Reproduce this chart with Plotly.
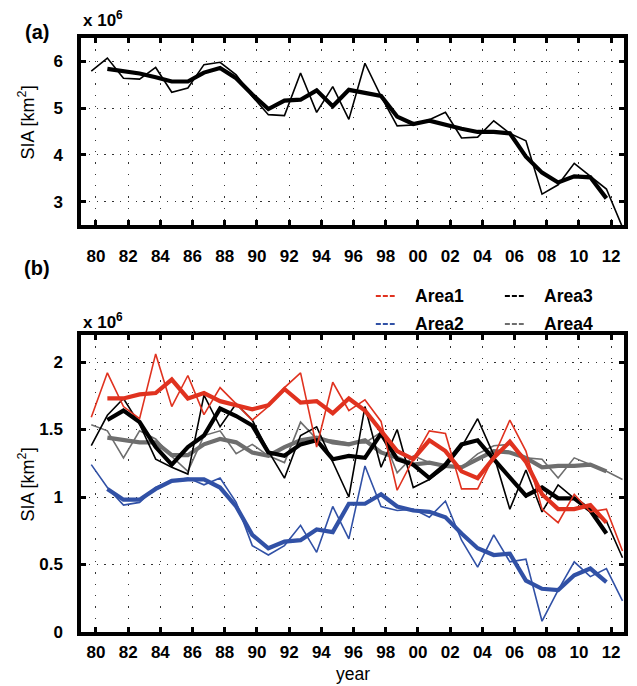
import plotly.graph_objects as go

# ---------------- data ----------------
years = list(range(1979, 2013))          # annual September values
smooth_years = list(range(1980, 2012))   # 3-year running mean years
SEPT = 8.5 / 12                          # values plotted at mid-September

total_annual = [5.79, 6.07, 5.64, 5.62, 5.87, 5.34, 5.43, 5.93, 5.98, 5.71,
                5.25, 4.86, 4.84, 5.75, 4.91, 5.46, 4.76, 5.96, 5.25, 4.62,
                4.64, 4.75, 4.91, 4.36, 4.38, 4.73, 4.46, 4.30, 3.16, 3.36,
                3.82, 3.54, 3.27, 2.45]
total_smooth = [5.84, 5.79, 5.74, 5.66, 5.57, 5.57, 5.76, 5.86, 5.64, 5.29,
                4.98, 5.16, 5.18, 5.38, 5.04, 5.39, 5.32, 5.26, 4.82, 4.66,
                4.73, 4.64, 4.56, 4.49, 4.49, 4.46, 3.96, 3.62, 3.41, 3.54,
                3.52, 3.07]

area1_annual = [1.59, 1.92, 1.67, 1.58, 2.06, 1.67, 1.90, 1.61, 1.81, 1.69,
                1.57, 1.67, 1.81, 1.92, 1.37, 1.85, 1.64, 1.72, 1.56, 1.05,
                1.28, 1.49, 1.47, 1.06, 1.06, 1.30, 1.57, 1.34, 0.91, 0.81,
                1.02, 0.89, 0.91, 0.60]
area1_smooth = [1.73, 1.73, 1.76, 1.77, 1.87, 1.73, 1.77, 1.71, 1.68, 1.65,
                1.68, 1.80, 1.70, 1.71, 1.62, 1.73, 1.64, 1.49, 1.34, 1.28,
                1.42, 1.34, 1.19, 1.14, 1.29, 1.41, 1.26, 1.02, 0.91, 0.91,
                0.94, 0.81]

area2_annual = [1.24, 1.07, 0.94, 0.96, 1.07, 1.12, 1.14, 1.09, 1.14, 0.96,
                0.64, 0.57, 0.64, 0.79, 0.59, 0.93, 0.69, 1.23, 0.93, 0.90,
                0.91, 0.85, 0.97, 0.68, 0.48, 0.72, 0.52, 0.54, 0.08, 0.31,
                0.52, 0.41, 0.47, 0.23]
area2_smooth = [1.06, 0.98, 0.98, 1.06, 1.12, 1.13, 1.13, 1.07, 0.93, 0.72,
                0.62, 0.67, 0.68, 0.76, 0.74, 0.95, 0.95, 1.02, 0.93, 0.90,
                0.89, 0.85, 0.73, 0.62, 0.57, 0.58, 0.38, 0.32, 0.31, 0.42,
                0.47, 0.37]

area3_annual = [1.38, 1.605, 1.73, 1.54, 1.28, 1.22, 1.17, 1.755, 1.52, 1.69,
                1.57, 1.34, 1.14, 1.455, 1.52, 1.255, 1.00, 1.67, 1.22, 1.50,
                1.07, 1.13, 1.22, 1.37, 1.58, 1.31, 0.91, 1.20, 0.89, 1.09,
                0.99, 0.89, 0.82, 0.55]
area3_smooth = [1.57, 1.64, 1.555, 1.37, 1.24, 1.37, 1.455, 1.655, 1.60, 1.53,
                1.33, 1.305, 1.39, 1.42, 1.28, 1.305, 1.29, 1.47, 1.28, 1.24,
                1.14, 1.24, 1.39, 1.42, 1.28, 1.14, 1.01, 1.07, 0.99, 0.99,
                0.90, 0.73]

area4_annual = [1.535, 1.49, 1.29, 1.49, 1.43, 1.30, 1.19, 1.455, 1.49, 1.32,
                1.39, 1.305, 1.255, 1.555, 1.43, 1.42, 1.40, 1.40, 1.48, 1.18,
                1.305, 1.255, 1.23, 1.22, 1.32, 1.38, 1.39, 1.29, 1.28, 1.14,
                1.29, 1.24, 1.19, 1.13]
area4_smooth = [1.44, 1.42, 1.405, 1.405, 1.31, 1.31, 1.39, 1.43, 1.405, 1.33,
                1.305, 1.37, 1.42, 1.44, 1.405, 1.39, 1.42, 1.33, 1.29, 1.24,
                1.255, 1.23, 1.22, 1.28, 1.34, 1.33, 1.29, 1.22, 1.23, 1.23,
                1.24, 1.19]

xtick_vals = list(range(1980, 2013, 2))
xtick_text = ["%02d" % (y % 100) for y in xtick_vals]
ya_ticks = [3, 4, 5, 6]
yb_ticks = [0, 0.5, 1, 1.5, 2]
yb_text = ["0", "0.5", "1", "1.5", "2"]

area_names = ["Area1", "Area2", "Area3", "Area4"]
area_colors = ["#E0321F", "#3151A6", "#000000", "#6E6E6E"]

# ---------------- figure ----------------
W, H = 637, 686
ML, MR, MT, MB = 81, 9, 38, 54
pw, ph = W - ML - MR, H - MT - MB

def px(x):
    return (x - ML) / pw

def py(y):
    return (H - MB - y) / ph

xa = [y + SEPT for y in years]
xs = [y + SEPT for y in smooth_years]

THIN, THICK = 1.6, 4.2
fig = go.Figure()

fig.add_trace(go.Scatter(x=xa, y=total_annual, mode="lines",
                         line=dict(color="black", width=THIN),
                         xaxis="x", yaxis="y", showlegend=False))
fig.add_trace(go.Scatter(x=xs, y=total_smooth, mode="lines",
                         line=dict(color="black", width=THICK),
                         xaxis="x", yaxis="y", showlegend=False))

series_b = {
    "Area4": (area4_annual, area4_smooth, area_colors[3]),
    "Area3": (area3_annual, area3_smooth, area_colors[2]),
    "Area2": (area2_annual, area2_smooth, area_colors[1]),
    "Area1": (area1_annual, area1_smooth, area_colors[0]),
}
for name in ["Area4", "Area3", "Area2", "Area1"]:
    ann_v, sm, col = series_b[name]
    fig.add_trace(go.Scatter(x=xa, y=ann_v, mode="lines", name=name,
                             line=dict(color=col, width=THIN),
                             xaxis="x2", yaxis="y2", showlegend=False))
    fig.add_trace(go.Scatter(x=xs, y=sm, mode="lines", name=name,
                             line=dict(color=col, width=THICK),
                             xaxis="x2", yaxis="y2", showlegend=False))

FONT = "Liberation Sans"
tickfont = dict(family=FONT, size=17, color="black", weight="bold")
common_axis = dict(showline=True, linecolor="black", linewidth=3.5, mirror="ticks",
                   ticks="inside", ticklen=5, tickwidth=2.5, tickcolor="black",
                   showgrid=True, gridcolor="#333333", gridwidth=1.3,
                   zeroline=False, tickfont=tickfont)
xr = [1979.07, 2012.8]

fig.update_layout(
    width=W, height=H, autosize=False,
    margin=dict(l=ML, r=MR, t=MT, b=MB),
    paper_bgcolor="white", plot_bgcolor="white",
    showlegend=False,
    xaxis=dict(domain=[0, 1], anchor="y", range=xr, tickvals=xtick_vals,
               ticktext=xtick_text, griddash="1.3px,10px",
               ticklabelstandoff=13, **common_axis),
    yaxis=dict(domain=[py(225), 1], anchor="x", range=[2.5, 6.5],
               tickvals=ya_ticks, griddash="1.3px,6.5px",
               ticklabelstandoff=11, **common_axis),
    xaxis2=dict(domain=[0, 1], anchor="y2", range=xr, tickvals=xtick_vals,
                ticktext=xtick_text, griddash="1.3px,10px",
                ticklabelstandoff=2, **common_axis),
    yaxis2=dict(domain=[0, py(335)], anchor="x2", range=[0, 2.2],
                tickvals=yb_ticks, ticktext=yb_text, griddash="1.3px,6.5px",
                ticklabelstandoff=11, **common_axis),
)

ann = []
def add_text(txt, x, y, size, bold=False, xanchor="center", angle=0):
    ann.append(dict(text=txt, x=px(x), y=py(y), xref="paper", yref="paper",
                    xanchor=xanchor, yanchor="middle", showarrow=False,
                    textangle=angle,
                    font=dict(family=FONT, size=size, color="black",
                              weight="bold" if bold else "normal")))

add_text("(a)", 37, 32, 20, bold=True)
add_text("(b)", 37, 268, 20, bold=True)
add_text("x 10<sup>6</sup>", 81, 19, 17, bold=True, xanchor="left")
add_text("x 10<sup>6</sup>", 81, 321, 17, bold=True, xanchor="left")
add_text("SIA [km<sup>2</sup>]", 26, 122, 18, angle=-90)
add_text("SIA [km<sup>2</sup>]", 26, 484, 18, angle=-90)
add_text("year", 355, 674, 17.5)

# legend (two columns)
leg = [("Area1", area_colors[0], 378, 296), ("Area2", area_colors[1], 378, 324),
       ("Area3", area_colors[2], 508, 296), ("Area4", area_colors[3], 508, 324)]
shapes = []
for name, col, lx, ly in leg:
    shapes.append(dict(type="line", xref="paper", yref="paper",
                       x0=px(lx), x1=px(lx + 19), y0=py(ly), y1=py(ly),
                       line=dict(color=col, width=2, dash="5px,2px")))
    add_text(name, lx + 37, ly, 17.5, bold=True, xanchor="left")

fig.update_layout(annotations=ann, shapes=shapes)
fig.write_html("out.html", config={"displayModeBar": False},
               post_script="document.body.style.margin='0px';"
                           "document.body.style.overflow='hidden';")
